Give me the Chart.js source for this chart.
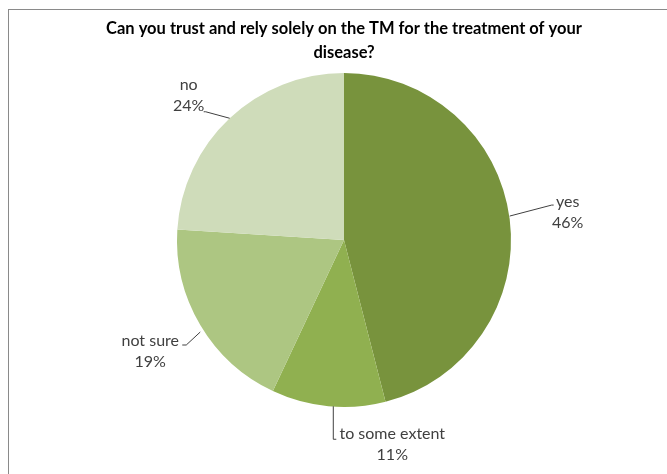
<!DOCTYPE html>
<html>
<head>
<meta charset="utf-8">
<script src="https://cdn.jsdelivr.net/npm/chart.js@4/dist/chart.umd.min.js"></script>
<style>
  html, body { margin: 0; padding: 0; background: #ffffff; }
  #wrap { position: relative; width: 667px; height: 474px; overflow: hidden; }
  #frame { position: absolute; left: 8px; top: 9px; width: 800px; height: 600px;
           border-left: 1px solid #8a8a8a; border-top: 1px solid #8a8a8a; box-sizing: border-box; }
  #c { position: absolute; left: 0; top: 0; }
</style>
</head>
<body>
<div id="wrap">
  <div id="frame"></div>
  <canvas id="c" width="667" height="474"></canvas>
</div>
<script>
const categories = ["yes", "to some extent", "not sure", "no"];
const percentages = [46, 11, 19, 24];
const sliceColors = ["#78933D", "#90B050", "#ADC682", "#CFDCBA"];
const titleLines = ["Can you trust and rely solely on the TM for the treatment of your", "disease?"];

// label placement relative to the slice's outer mid-point (style, not data)
const labelLayout = [
  { path: [[0, -3], [42, -14], [44, -14]], text: [58, -17] },
  { path: [[5, 0], [5, 33], [8, 33]], text: [64, 28] },
  { path: [[0, 7], [-14, 20], [-18, 20]], text: [-50, 16] },
  { path: [[0, 0], [-24, -6.5], [-26, -6.5]], text: [-41, -33] }
];

const leaderLabels = {
  id: 'leaderLabels',
  afterDatasetsDraw(chart) {
    const ctx = chart.ctx;
    const meta = chart.getDatasetMeta(0);
    ctx.save();
    meta.data.forEach((arc, i) => {
      const p = arc.getProps(['x', 'y', 'startAngle', 'endAngle', 'outerRadius'], true);
      const mid = (p.startAngle + p.endAngle) / 2;
      const ex = p.x + Math.cos(mid) * p.outerRadius;
      const ey = p.y + Math.sin(mid) * p.outerRadius;
      const L = labelLayout[i];
      ctx.strokeStyle = '#404040';
      ctx.lineWidth = 1;
      ctx.beginPath();
      L.path.forEach((pt, k) => {
        const x = ex + pt[0], y = ey + pt[1];
        if (k === 0) ctx.moveTo(x, y); else ctx.lineTo(x, y);
      });
      ctx.stroke();
      ctx.fillStyle = '#404040';
      ctx.font = '16px Lato, "Open Sans", sans-serif';
      ctx.textAlign = 'center';
      ctx.textBaseline = 'middle';
      const tx = ex + L.text[0], ty = ey + L.text[1];
      ctx.fillText(categories[i], tx, ty);
      ctx.fillText(percentages[i] + '%', tx, ty + 21);
    });
    ctx.restore();
  }
};

new Chart(document.getElementById('c'), {
  type: 'pie',
  data: {
    labels: categories,
    datasets: [{
      data: percentages,
      backgroundColor: sliceColors,
      borderWidth: 0
    }]
  },
  options: {
    responsive: false,
    animation: false,
    radius: 167,
    layout: { padding: { left: 21, right: 0, top: 0, bottom: 67 } },
    plugins: {
      legend: { display: false },
      tooltip: { enabled: false },
      title: {
        display: true,
        text: titleLines,
        color: '#000000',
        font: { family: 'Lato, "Open Sans", sans-serif', size: 16.5, weight: 'bold', lineHeight: 1.4545 },
        padding: { top: 17, bottom: 8 }
      }
    }
  },
  plugins: [leaderLabels]
});
</script>
</body>
</html>
